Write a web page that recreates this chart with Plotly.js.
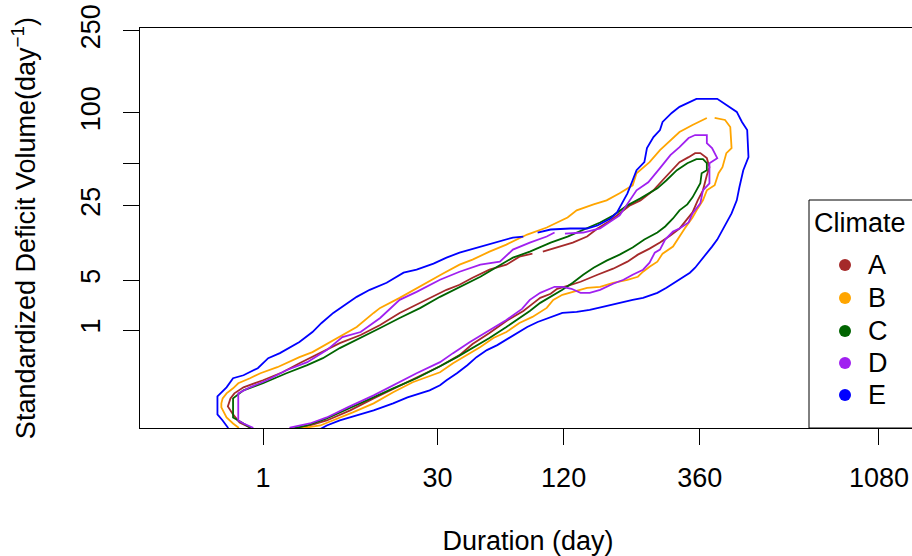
<!DOCTYPE html>
<html><head><meta charset="utf-8">
<script src="https://cdn.plot.ly/plotly-3.0.1.min.js"></script>
<style>html,body{margin:0;padding:0;overflow:hidden;background:#fff;width:912px;height:556px}#chart{width:930px;height:556px}</style>
</head><body><div id="chart"></div>
<script>
// Axis tick labels (axes use a quarter-root scale: value^0.25)
const durationTicks = [1, 30, 120, 360, 1080];
const volumeTicks = [1, 5, 25, 100, 250];
const volumeUnlabeledTicks = [50];
const climates = ['A', 'B', 'C', 'D', 'E'];
const climateColors = ['#A52A2A', '#FFA500', '#006400', '#A020F0', '#0000FF'];

// Contour outlines, in quarter-root units: duration^0.25 (x) and volume^0.25 (y)
const A_x = [0.90,0.90,0.82,0.77,0.73,0.75,0.78,0.85,1.00,1.15,1.28,1.44,1.59,1.75,1.90,2.05,2.26,2.41,2.51,2.61,2.74,2.87,2.97,3.07,null,3.15,3.28,3.38,3.49,3.57,3.67,3.74,3.82,3.90,4.00,4.07,4.13,4.20,4.27,4.32,4.36,4.41,4.43,4.41,4.38,4.34,4.30,4.25,4.20,4.13,4.05,3.97,3.88,3.80,3.69,3.57,3.44,3.34,3.26,3.21,3.13,3.07,3.00,2.87,2.74,2.61,2.51,2.36,2.18,2.00,1.85,1.67,1.49,1.36,1.26,1.25,0.90];
const A_y = [-0.04,0.03,0.08,0.16,0.24,0.32,0.37,0.43,0.50,0.58,0.67,0.77,0.87,0.95,1.05,1.17,1.30,1.40,1.45,1.52,1.60,1.65,1.73,1.76,null,1.78,1.83,1.87,1.93,2.01,2.09,2.16,2.24,2.29,2.39,2.49,2.57,2.67,2.72,2.76,2.76,2.71,2.62,2.54,2.39,2.29,2.17,2.09,2.01,1.94,1.87,1.81,1.75,1.68,1.61,1.55,1.48,1.44,1.41,1.36,1.32,1.26,1.19,1.09,0.97,0.86,0.75,0.64,0.53,0.42,0.32,0.20,0.10,0.05,0.02,-0.04,-0.04];

const B_x = [0.81,0.81,0.77,0.72,0.68,0.68,0.69,0.72,0.77,0.81,0.90,0.98,1.11,1.28,1.38,1.54,1.72,1.85,1.90,2.05,2.24,2.38,2.51,2.61,2.74,2.87,3.03,3.18,3.34,3.41,3.54,3.64,3.74,3.84,3.87,3.97,4.05,4.13,4.20,4.30,4.41,null,4.47,4.55,4.59,4.60,4.56,4.53,4.50,4.47,4.41,4.38,4.34,4.30,4.24,4.20,4.15,4.07,4.03,3.97,3.92,3.88,3.80,3.69,3.59,3.49,3.38,3.30,3.23,3.18,3.07,2.97,2.87,2.77,2.67,2.57,2.46,2.36,2.15,2.00,1.85,1.69,1.54,1.44,1.28,1.27,0.81];
const B_y = [-0.04,0.03,0.07,0.13,0.23,0.27,0.32,0.37,0.42,0.47,0.52,0.57,0.63,0.73,0.78,0.90,1.03,1.17,1.22,1.32,1.46,1.56,1.65,1.70,1.78,1.85,1.95,2.02,2.12,2.19,2.25,2.29,2.36,2.44,2.56,2.67,2.79,2.89,2.97,3.04,3.11,null,3.11,3.09,3.02,2.81,2.76,2.62,2.56,2.44,2.39,2.29,2.21,2.12,2.01,1.93,1.83,1.76,1.68,1.63,1.58,1.53,1.50,1.47,1.43,1.42,1.38,1.35,1.30,1.22,1.13,1.07,0.98,0.92,0.83,0.75,0.67,0.58,0.48,0.38,0.27,0.18,0.10,0.05,0.02,-0.04,-0.04];

const C_x = [0.92,0.90,0.85,0.77,0.77,0.85,1.00,1.18,1.34,1.46,1.59,1.75,1.90,2.05,2.21,2.36,2.51,2.67,2.80,2.92,3.05,3.21,3.34,3.46,3.59,3.69,3.80,3.90,4.03,4.10,4.18,4.26,4.33,4.38,4.41,4.41,4.37,4.36,4.33,4.30,4.26,4.20,4.15,4.09,4.03,3.93,3.84,3.74,3.64,3.54,3.46,3.38,3.30,3.21,3.13,3.05,2.95,2.87,2.74,2.61,2.49,2.36,2.18,2.00,1.85,1.67,1.49,1.34,1.23,1.22,0.92];
const C_y = [-0.04,0.03,0.07,0.13,0.32,0.40,0.47,0.57,0.65,0.72,0.82,0.92,1.02,1.12,1.22,1.33,1.43,1.53,1.63,1.72,1.78,1.87,1.93,2.00,2.07,2.14,2.24,2.31,2.41,2.49,2.59,2.66,2.70,2.70,2.66,2.59,2.56,2.46,2.39,2.32,2.25,2.19,2.11,2.03,1.97,1.90,1.82,1.75,1.69,1.62,1.55,1.47,1.40,1.33,1.27,1.19,1.10,1.03,0.92,0.82,0.73,0.64,0.52,0.42,0.33,0.22,0.12,0.05,0.02,-0.04,-0.04];

const D_x = [0.92,0.92,0.85,0.81,0.81,0.90,1.03,1.18,1.34,1.49,1.61,1.75,1.90,2.05,2.18,2.36,2.51,2.67,2.82,2.92,3.05,3.18,3.24,null,3.32,3.46,3.59,3.74,3.87,3.96,4.05,4.13,4.20,4.27,4.32,4.41,4.41,4.45,4.49,4.43,4.43,4.38,4.36,4.30,4.27,4.20,4.15,4.09,4.05,4.01,3.97,3.92,3.84,3.77,3.69,3.59,3.51,3.44,3.37,3.30,3.24,3.13,3.05,2.99,2.87,2.74,2.59,2.46,2.36,2.18,2.00,1.85,1.65,1.49,1.36,1.21,1.19,0.92];
const D_y = [-0.04,0.03,0.07,0.10,0.37,0.43,0.50,0.60,0.68,0.80,0.93,0.98,1.12,1.30,1.38,1.50,1.58,1.65,1.68,1.80,1.87,1.93,1.97,null,1.96,1.97,2.01,2.14,2.39,2.47,2.61,2.74,2.82,2.91,2.94,2.94,2.86,2.81,2.71,2.66,2.46,2.39,2.26,2.16,2.07,2.01,1.98,1.90,1.80,1.77,1.67,1.60,1.55,1.50,1.46,1.40,1.37,1.37,1.41,1.43,1.43,1.37,1.30,1.21,1.10,1.00,0.88,0.77,0.68,0.57,0.45,0.35,0.23,0.13,0.07,0.03,-0.04,-0.04];

const E_x = [0.74,0.73,0.69,0.65,0.65,0.72,0.77,0.85,0.96,1.04,1.13,1.21,1.28,1.38,1.45,1.54,1.61,1.72,1.82,1.95,2.08,2.18,2.31,2.41,2.51,2.59,2.69,2.81,2.92,3.00,null,3.11,3.21,3.36,3.49,3.57,3.67,3.72,3.76,3.80,3.84,3.87,3.93,3.95,4.00,4.05,4.07,4.14,4.20,4.28,4.33,4.49,4.56,4.64,4.68,4.72,4.73,4.69,4.66,4.64,4.60,4.56,4.53,4.49,4.45,4.40,4.36,4.32,4.28,4.20,4.10,4.03,3.92,3.84,3.72,3.61,3.51,3.41,3.30,3.21,3.11,3.03,2.90,2.80,2.72,2.64,2.57,2.49,2.41,2.36,2.28,2.11,2.00,1.85,1.72,1.59,1.49,1.42,1.40,0.74];
const E_y = [-0.04,0.03,0.10,0.16,0.34,0.43,0.52,0.55,0.62,0.72,0.77,0.83,0.88,0.98,1.07,1.17,1.23,1.33,1.40,1.47,1.57,1.60,1.66,1.72,1.77,1.80,1.83,1.88,1.92,1.93,null,1.97,2.00,2.01,2.01,2.04,2.11,2.17,2.26,2.36,2.49,2.59,2.67,2.81,2.92,2.99,3.07,3.16,3.22,3.27,3.30,3.30,3.24,3.17,3.07,2.99,2.72,2.59,2.42,2.29,2.16,2.06,2.00,1.90,1.83,1.75,1.68,1.62,1.57,1.50,1.42,1.37,1.32,1.30,1.26,1.23,1.20,1.18,1.17,1.13,1.08,1.03,0.93,0.85,0.80,0.73,0.65,0.57,0.50,0.45,0.40,0.33,0.27,0.20,0.15,0.10,0.05,0.00,-0.04,-0.04];

const seriesX = [A_x, B_x, C_x, D_x, E_x];
const seriesY = [A_y, B_y, C_y, D_y, E_y];
const qr = v => Math.pow(v, 0.25);

const FONT = '"Liberation Sans", Arial, Helvetica, sans-serif';
const FS = 27;

const traces = climates.map((c, i) => ({
  type: 'scatter', mode: 'lines', name: c,
  x: seriesX[i], y: seriesY[i], connectgaps: false,
  line: {color: climateColors[i], width: 1.8},
  showlegend: false, hoverinfo: 'skip'
}));

// Manual legend box (paper coordinates)
const L = 140, R = 916, T = 28, B = 428;
const px = x => (x - L) / (R - L);
const py = y => (B - y) / (B - T);
const legendRowY = [265, 298, 331, 363, 395];
const shapes = [{type: 'rect', xref: 'paper', yref: 'paper', x0: px(809), x1: 1, y0: 0, y1: py(200),
  line: {color: '#000', width: 1}, fillcolor: '#fff', layer: 'above'}];
const annotations = [{xref: 'paper', yref: 'paper', x: px(812), y: py(223), xanchor: 'left', yanchor: 'middle',
  text: 'Climate', showarrow: false, font: {family: FONT, size: FS, color: '#000'}}];
climates.forEach((c, i) => {
  const yc = legendRowY[i];
  shapes.push({type: 'circle', xref: 'paper', yref: 'paper', x0: px(839), x1: px(851), y0: py(yc + 6), y1: py(yc - 6),
    line: {width: 0}, fillcolor: climateColors[i], layer: 'above'});
  annotations.push({xref: 'paper', yref: 'paper', x: px(866), y: py(yc), xanchor: 'left', yanchor: 'middle',
    text: c, showarrow: false, font: {family: FONT, size: FS, color: '#000'}});
});

const layout = {
  width: 930, height: 556,
  margin: {l: L, r: 930 - R, t: T, b: 556 - B, pad: 0},
  paper_bgcolor: '#fff', plot_bgcolor: '#fff',
  font: {family: FONT, size: FS, color: '#000'},
  showlegend: false,
  xaxis: {
    range: [0.055, 6.017], tickvals: durationTicks.map(qr), ticktext: durationTicks.map(String),
    ticks: 'outside', ticklen: 16, tickwidth: 1, tickcolor: '#000',
    showline: true, mirror: true, linecolor: '#000', linewidth: 1,
    showgrid: false, zeroline: false, ticklabelstandoff: 10,
    tickfont: {family: FONT, size: FS, color: '#000'},
    title: {text: 'Duration (day)', font: {family: FONT, size: FS, color: '#000'}, standoff: 38}
  },
  yaxis: {
    range: [0.025, 4.005], tickvals: volumeTicks.map(qr), ticktext: volumeTicks.map(String),
    ticks: 'outside', ticklen: 16, tickwidth: 1, tickcolor: '#000', tickangle: -90,
    minor: {tickvals: volumeUnlabeledTicks.map(qr), ticks: 'outside', ticklen: 16, tickwidth: 1, tickcolor: '#000', showgrid: false},
    showline: true, mirror: true, linecolor: '#000', linewidth: 1,
    showgrid: false, zeroline: false, ticklabelstandoff: 12,
    tickfont: {family: FONT, size: FS, color: '#000'},
    title: {text: 'Standardized Deficit Volume(day<sup>−1</sup>)', font: {family: FONT, size: FS, color: '#000'}, standoff: 32}
  },
  shapes: shapes, annotations: annotations
};

Plotly.newPlot('chart', traces, layout, {staticPlot: true, displayModeBar: false});
</script></body></html>
